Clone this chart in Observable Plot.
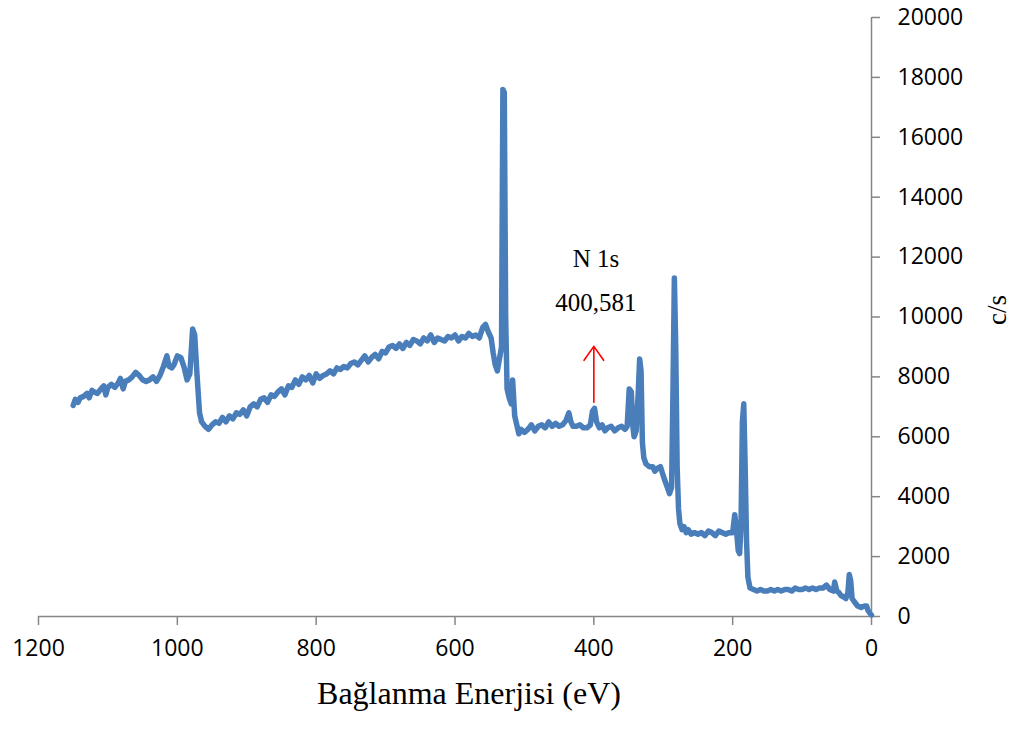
<!DOCTYPE html>
<html>
<head>
<meta charset="utf-8">
<script src="https://cdn.jsdelivr.net/npm/d3@7"></script>
<script src="https://cdn.jsdelivr.net/npm/@observablehq/plot@0.6"></script>
<style>
  html, body { margin: 0; padding: 0; background: #fff; }
  #chart svg { display: block; }
</style>
</head>
<body>
<div id="chart"></div>
<script>
// Binding energy (eV) and intensity (c/s)
const energy = [
  1150,1147,1143,1140,1135,1130,1127,1123,1120,1115,1110,1106,1103,1100,1095,1090,1085,1082,1078,1075,
  1070,1065,1060,1055,1050,1045,1040,1035,1030,1025,1020,1015,1012,1008,1005,1000,995,990,986,982,
  978,975,972,968,965,960,955,950,945,940,935,930,925,920,915,910,905,900,895,890,
  885,880,875,870,865,860,855,850,845,840,835,830,825,820,815,810,805,800,795,790,
  785,780,775,770,765,760,755,750,745,740,735,730,725,720,715,710,705,700,695,690,
  685,680,675,670,665,660,655,650,645,640,635,630,625,620,615,610,605,600,595,590,
  585,580,575,570,565,560,556,552,548,545,542,539,536,533,531,529,527,525,522,519,
  517,514,511,508,505,500,495,490,485,480,475,470,465,460,455,450,445,440,436,433,
  430,425,420,415,410,405,402,399,396,392,388,384,380,375,370,365,360,355,352,349,
  346,344,342,339,336,334,332,330,328,325,320,315,312,308,304,300,297,294,291,288,
  286,284,282,280,278,276,273,270,267,264,260,255,250,245,240,235,230,225,220,215,
  210,205,200,197,195,192,190,188,186,184,182,180,178,175,170,165,160,155,150,145,
  140,135,130,125,120,115,110,105,100,95,90,85,80,75,70,65,60,55,53,50,
  47,44,40,37,34,32,30,28,25,20,15,10,7,5,2,0
];
const counts = [
  7050,7250,7150,7300,7350,7450,7300,7550,7500,7450,7600,7700,7400,7650,7750,7650,7800,7950,7600,7850,
  7900,8000,8150,8050,7900,7850,7900,8000,7850,8050,8350,8700,8350,8300,8400,8700,8650,8300,7900,8100,
  9600,9400,8200,6800,6500,6350,6250,6400,6500,6450,6650,6500,6700,6600,6800,6750,6900,6700,7000,7100,
  7000,7250,7300,7150,7400,7350,7500,7600,7400,7700,7650,7900,7750,8000,7900,8050,7800,8100,7950,8050,
  8100,8200,8100,8300,8250,8350,8300,8450,8500,8400,8550,8700,8500,8650,8750,8600,8850,8800,9000,9050,
  8950,9100,8950,9150,9050,9250,9200,9100,9300,9200,9400,9150,9300,9250,9200,9350,9300,9400,9200,9350,
  9300,9450,9350,9400,9300,9650,9750,9500,9300,8800,8400,8200,8600,9000,17600,17500,10000,7600,7300,7100,
  7900,6700,6400,6100,6250,6150,6250,6400,6200,6350,6400,6300,6500,6350,6450,6350,6400,6550,6800,6500,
  6350,6350,6400,6300,6300,6400,6850,6950,6500,6300,6400,6200,6300,6350,6200,6300,6350,6250,6350,7600,
  7500,6400,6000,6200,7500,8600,8200,5800,5300,5100,5000,5000,4850,4950,5000,4700,4500,4300,4100,4300,
  7500,11300,9000,5000,3600,3100,2900,3000,2800,2900,2750,2800,2750,2800,2700,2850,2800,2700,2850,2800,
  2750,2800,2800,3400,3000,2200,2100,3000,6500,7100,5000,2500,1300,950,900,850,900,850,850,900,
  850,900,850,900,900,850,950,900,900,950,900,950,900,950,950,1050,900,850,1150,850,
  800,700,650,600,800,1400,1200,600,500,350,300,350,350,200,100,50
];

const xTicks = [1200, 1000, 800, 600, 400, 200, 0];
const yTicks = [0, 2000, 4000, 6000, 8000, 10000, 12000, 14000, 16000, 18000, 20000];

const xTitle = "Bağlanma Enerjisi (eV)";
const yTitle = "c/s";

// N 1s annotation
const noteText = ["N 1s", "400,581"];
const noteEnergy = [397, 397];
const noteCounts = [11930, 10470];
const arrowEnergy = [400];
const arrowFrom = [7150];
const arrowTo = [9020];

const spectrum = energy.map((e, i) => ({e, c: counts[i]}));
const notes = noteText.map((t, i) => ({t, e: noteEnergy[i], c: noteCounts[i]}));
const arrows = arrowEnergy.map((e, i) => ({e, c1: arrowFrom[i], c2: arrowTo[i]}));

const axisGray = "#868686";
const tickFont = "'Open Sans', 'Liberation Sans', sans-serif";
const serif = "'Liberation Serif', 'DejaVu Serif', serif";

const chart = Plot.plot({
  width: 1014,
  height: 729,
  marginLeft: 38,
  marginRight: 143,
  marginTop: 17,
  marginBottom: 113,
  x: {domain: [1200, 0]},
  y: {domain: [0, 20000]},
  style: {background: "#fff", overflow: "visible"},
  marks: [
    Plot.ruleY([0], {stroke: axisGray, strokeWidth: 1.5}),
    Plot.ruleX([0], {stroke: axisGray, strokeWidth: 1.5}),
    Plot.axisX(xTicks, {
      anchor: "bottom", tickSize: 9, tickPadding: 14, stroke: axisGray, strokeWidth: 1.5,
      fill: "#000", fontSize: 23, fontFamily: tickFont, label: null, tickFormat: d => String(d)
    }),
    Plot.axisY(yTicks, {
      anchor: "right", tickSize: 8, tickPadding: 18, stroke: axisGray, strokeWidth: 1.5,
      fill: "#000", fontSize: 23, fontFamily: tickFont, label: null, textAnchor: "start",
      tickFormat: d => String(d)
    }),
    Plot.line(spectrum, {
      x: "e", y: "c", stroke: "#4a7ebb", strokeWidth: 5.5,
      strokeLinejoin: "round", strokeLinecap: "round", curve: "linear"
    }),
    Plot.arrow(arrows, {
      x1: "e", x2: "e", y1: "c1", y2: "c2", stroke: "#ff0000", strokeWidth: 1.6,
      headLength: 16, headAngle: 70
    }),
    Plot.text(notes, {
      x: "e", y: "c", text: "t", fontSize: 25, fontFamily: serif, fill: "#000"
    }),
    Plot.text([xTitle], {
      frameAnchor: "bottom", dx: 14, dy: 87, text: d => d,
      fontSize: 32, fontFamily: serif, fill: "#000"
    }),
    Plot.text([yTitle], {
      frameAnchor: "right", dx: 126, dy: -22, rotate: -90, text: d => d,
      fontSize: 27, fontFamily: serif, fill: "#000"
    })
  ]
});

document.getElementById("chart").appendChild(chart);
</script>
</body>
</html>
